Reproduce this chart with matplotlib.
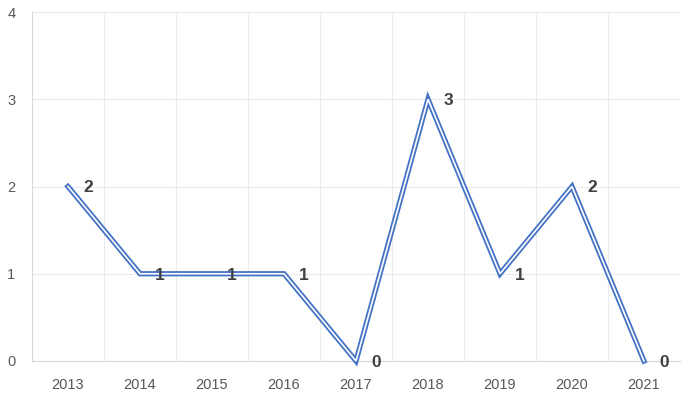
import matplotlib.pyplot as plt

years = ["2013", "2014", "2015", "2016", "2017", "2018", "2019", "2020", "2021"]
counts = [2, 1, 1, 1, 0, 3, 1, 2, 0]
y_ticks = [0, 1, 2, 3, 4]

blue = "#4472C4"

fig = plt.figure(figsize=(6.89, 3.96), dpi=100)
ax = fig.add_axes([32 / 689, 35 / 396, 648 / 689, 349 / 396])

x = list(range(len(years)))
# double line: thick blue with a thin white stripe in the middle
ax.plot(x, counts, color=blue, lw=3.8, solid_joinstyle="miter", clip_on=False, zorder=3)
ax.plot(x, counts, color="white", lw=1.2, solid_joinstyle="miter", clip_on=False, zorder=4)

for xi, v in zip(x, counts):
    ax.annotate(str(v), (xi, v), xytext=(11, -1), textcoords="offset points",
                ha="left", va="center", fontsize=12.5, fontweight="bold",
                color="#404040", family="Liberation Sans", zorder=5,
                annotation_clip=False)

ax.set_xlim(-0.5, len(years) - 0.5)
ax.set_ylim(0, 4)
ax.set_yticks(y_ticks)
ax.set_xticks(x)
ax.set_xticklabels(years)
ax.set_xticks([i + 0.5 for i in x[:-1]], minor=True)

ax.grid(True, which="minor", axis="x", color="#ebebeb", lw=0.8)
ax.grid(True, which="major", axis="y", color="#ebebeb", lw=0.8)
ax.set_axisbelow(True)

for s in ["top", "right"]:
    ax.spines[s].set_visible(False)
ax.spines["left"].set_color("#d9d9d9")
ax.spines["bottom"].set_color("#d9d9d9")
ax.spines["left"].set_linewidth(0.8)
ax.spines["bottom"].set_linewidth(0.8)

ax.tick_params(which="both", length=0)
ax.tick_params(axis="x", pad=12)
ax.tick_params(axis="y", pad=12)
for lab in ax.get_xticklabels() + ax.get_yticklabels():
    lab.set_color("#595959")
    lab.set_fontsize(10.5)
    lab.set_family("Liberation Sans")

fig.savefig("out.png", dpi=100)
